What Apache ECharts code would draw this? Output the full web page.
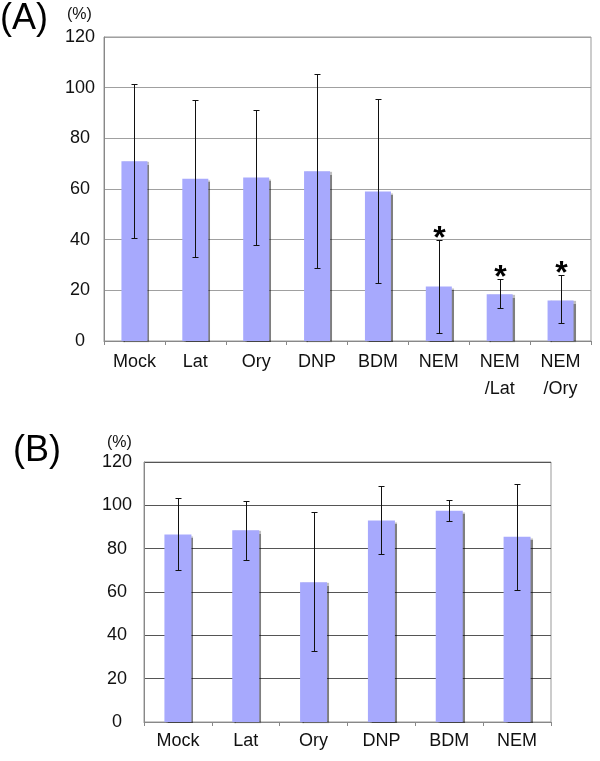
<!DOCTYPE html>
<html>
<head>
<meta charset="utf-8">
<script src="https://cdn.jsdelivr.net/npm/echarts@6/dist/echarts.min.js"></script>
<style>
html,body{margin:0;padding:0;background:#fff;}
#chart{width:600px;height:761px;}
</style>
</head>
<body>
<div id="chart"></div>
<script>
// Panel A data
var categoriesA = ['Mock', 'Lat', 'Ory', 'DNP', 'BDM', 'NEM', 'NEM\n/Lat', 'NEM\n/Ory'];
var valuesA = [71, 64, 64.5, 67, 59, 21.5, 18.5, 16];
var errLowA = [40.5, 33, 38, 29, 23, 3, 13, 7];
var errHighA = [101.5, 95, 91, 105.5, 95.5, 40, 24.5, 26];
var sigA = ['', '', '', '', '', '*', '*', '*'];

// Panel B data
var categoriesB = ['Mock', 'Lat', 'Ory', 'DNP', 'BDM', 'NEM'];
var valuesB = [86.5, 88.5, 64.5, 93, 97.5, 85.5];
var errLowB = [70, 75, 33, 77.5, 93, 61];
var errHighB = [103.5, 102, 97, 109, 102.5, 110];
var sigB = ['', '', '', '', '', ''];

var yTicks = [0, 20, 40, 60, 80, 100, 120];

var FONT = "'Liberation Sans', Arial, Helvetica, sans-serif";
var BAR_COLOR = '#a7a9fd';

function errData(lo, hi, sig) {
  return lo.map(function (v, i) { return [i, v, hi[i], sig[i]]; });
}

var sigCache = {};

function renderErr(params, api) {
  var x = api.value(0), lo = api.value(1), hi = api.value(2);
  var sig = sigCache[params.seriesIndex][params.dataIndex];
  var pLo = api.coord([x, lo]);
  var pHi = api.coord([x, hi]);
  var cx = Math.round(pLo[0]) + 0.5;
  var yLo = Math.round(pLo[1]) + 0.5, yHi = Math.round(pHi[1]) + 0.5;
  var cap = 3;
  var st = { stroke: '#111', lineWidth: 1 };
  var children = [
    { type: 'line', shape: { x1: cx, y1: yLo, x2: cx, y2: yHi }, style: st },
    { type: 'line', shape: { x1: cx - cap, y1: yLo, x2: cx + cap, y2: yLo }, style: st },
    { type: 'line', shape: { x1: cx - cap, y1: yHi, x2: cx + cap, y2: yHi }, style: st }
  ];
  if (sig) {
    children.push({
      type: 'text',
      style: {
        text: sig, x: cx, y: yHi - 1,
        fill: '#000', font: 'bold 32px ' + FONT,
        align: 'center', verticalAlign: 'middle'
      }
    });
  }
  return { type: 'group', children: children };
}

function yAxisDef(gridIndex, gridColor, margin) {
  return {
    type: 'value', gridIndex: gridIndex, min: 0, max: 120, interval: 20,
    axisLine: { show: true, lineStyle: { color: '#888', width: 1 } },
    axisTick: { show: false },
    splitLine: { show: true, lineStyle: { color: gridColor, width: 1 } },
    axisLabel: {
      color: '#111', fontSize: 18, fontFamily: FONT, align: 'center', margin: margin,
      padding: [6, 0, 0, 0],
      formatter: function (v) { return yTicks.indexOf(v) >= 0 ? String(v) : ''; }
    }
  };
}

function xAxisDef(gridIndex, cats, lineHeight, margin) {
  return {
    type: 'category', gridIndex: gridIndex, data: cats,
    axisLine: { show: true, lineStyle: { color: '#888', width: 1 } },
    axisTick: { show: true, alignWithLabel: false, length: 4, inside: false, lineStyle: { color: '#888' } },
    axisLabel: { color: '#111', fontSize: 18, fontFamily: FONT, lineHeight: lineHeight, margin: margin, interval: 0 },
    splitLine: { show: false }
  };
}

var chart = echarts.init(document.getElementById('chart'), null, { renderer: 'canvas' });

var option = {
  backgroundColor: '#fff',
  animation: false,
  grid: [
    { left: 104, top: 37, width: 487, height: 304, show: true, borderColor: '#999', borderWidth: 1, backgroundColor: 'transparent' },
    { left: 144, top: 462, width: 407, height: 260, show: true, borderColor: '#999', borderWidth: 1, backgroundColor: 'transparent' }
  ],
  graphic: [
    { type: 'text', left: 0, top: 1, style: { text: '(A)', font: '36px ' + FONT, fill: '#000' } },
    { type: 'text', left: 67, top: 7, style: { text: '(%)', font: '16px ' + FONT, fill: '#111' } },
    { type: 'text', left: 13, top: 433, style: { text: '(B)', font: '36px ' + FONT, fill: '#000' } },
    { type: 'text', left: 107, top: 435, style: { text: '(%)', font: '16px ' + FONT, fill: '#111' } }
  ],
  xAxis: [
    xAxisDef(0, categoriesA, 27, 8),
    xAxisDef(1, categoriesB, 22, 8)
  ],
  yAxis: [
    yAxisDef(0, '#a0a0a0', 24),
    yAxisDef(1, '#555', 27)
  ],
  series: [
    {
      type: 'bar', xAxisIndex: 0, yAxisIndex: 0, data: valuesA, barWidth: 26,
      itemStyle: { color: BAR_COLOR, shadowColor: 'rgba(0,0,0,0.5)', shadowOffsetX: 2, shadowOffsetY: 1, shadowBlur: 1 }
    },
    {
      type: 'custom', xAxisIndex: 0, yAxisIndex: 0, data: errData(errLowA, errHighA, sigA),
      renderItem: renderErr, z: 5
    },
    {
      type: 'bar', xAxisIndex: 1, yAxisIndex: 1, data: valuesB, barWidth: 27,
      itemStyle: { color: BAR_COLOR, shadowColor: 'rgba(0,0,0,0.5)', shadowOffsetX: 2, shadowOffsetY: 1, shadowBlur: 1 }
    },
    {
      type: 'custom', xAxisIndex: 1, yAxisIndex: 1, data: errData(errLowB, errHighB, sigB),
      renderItem: renderErr, z: 5
    }
  ]
};
sigCache[1] = sigA;
sigCache[3] = sigB;

chart.setOption(option);
</script>
</body>
</html>
